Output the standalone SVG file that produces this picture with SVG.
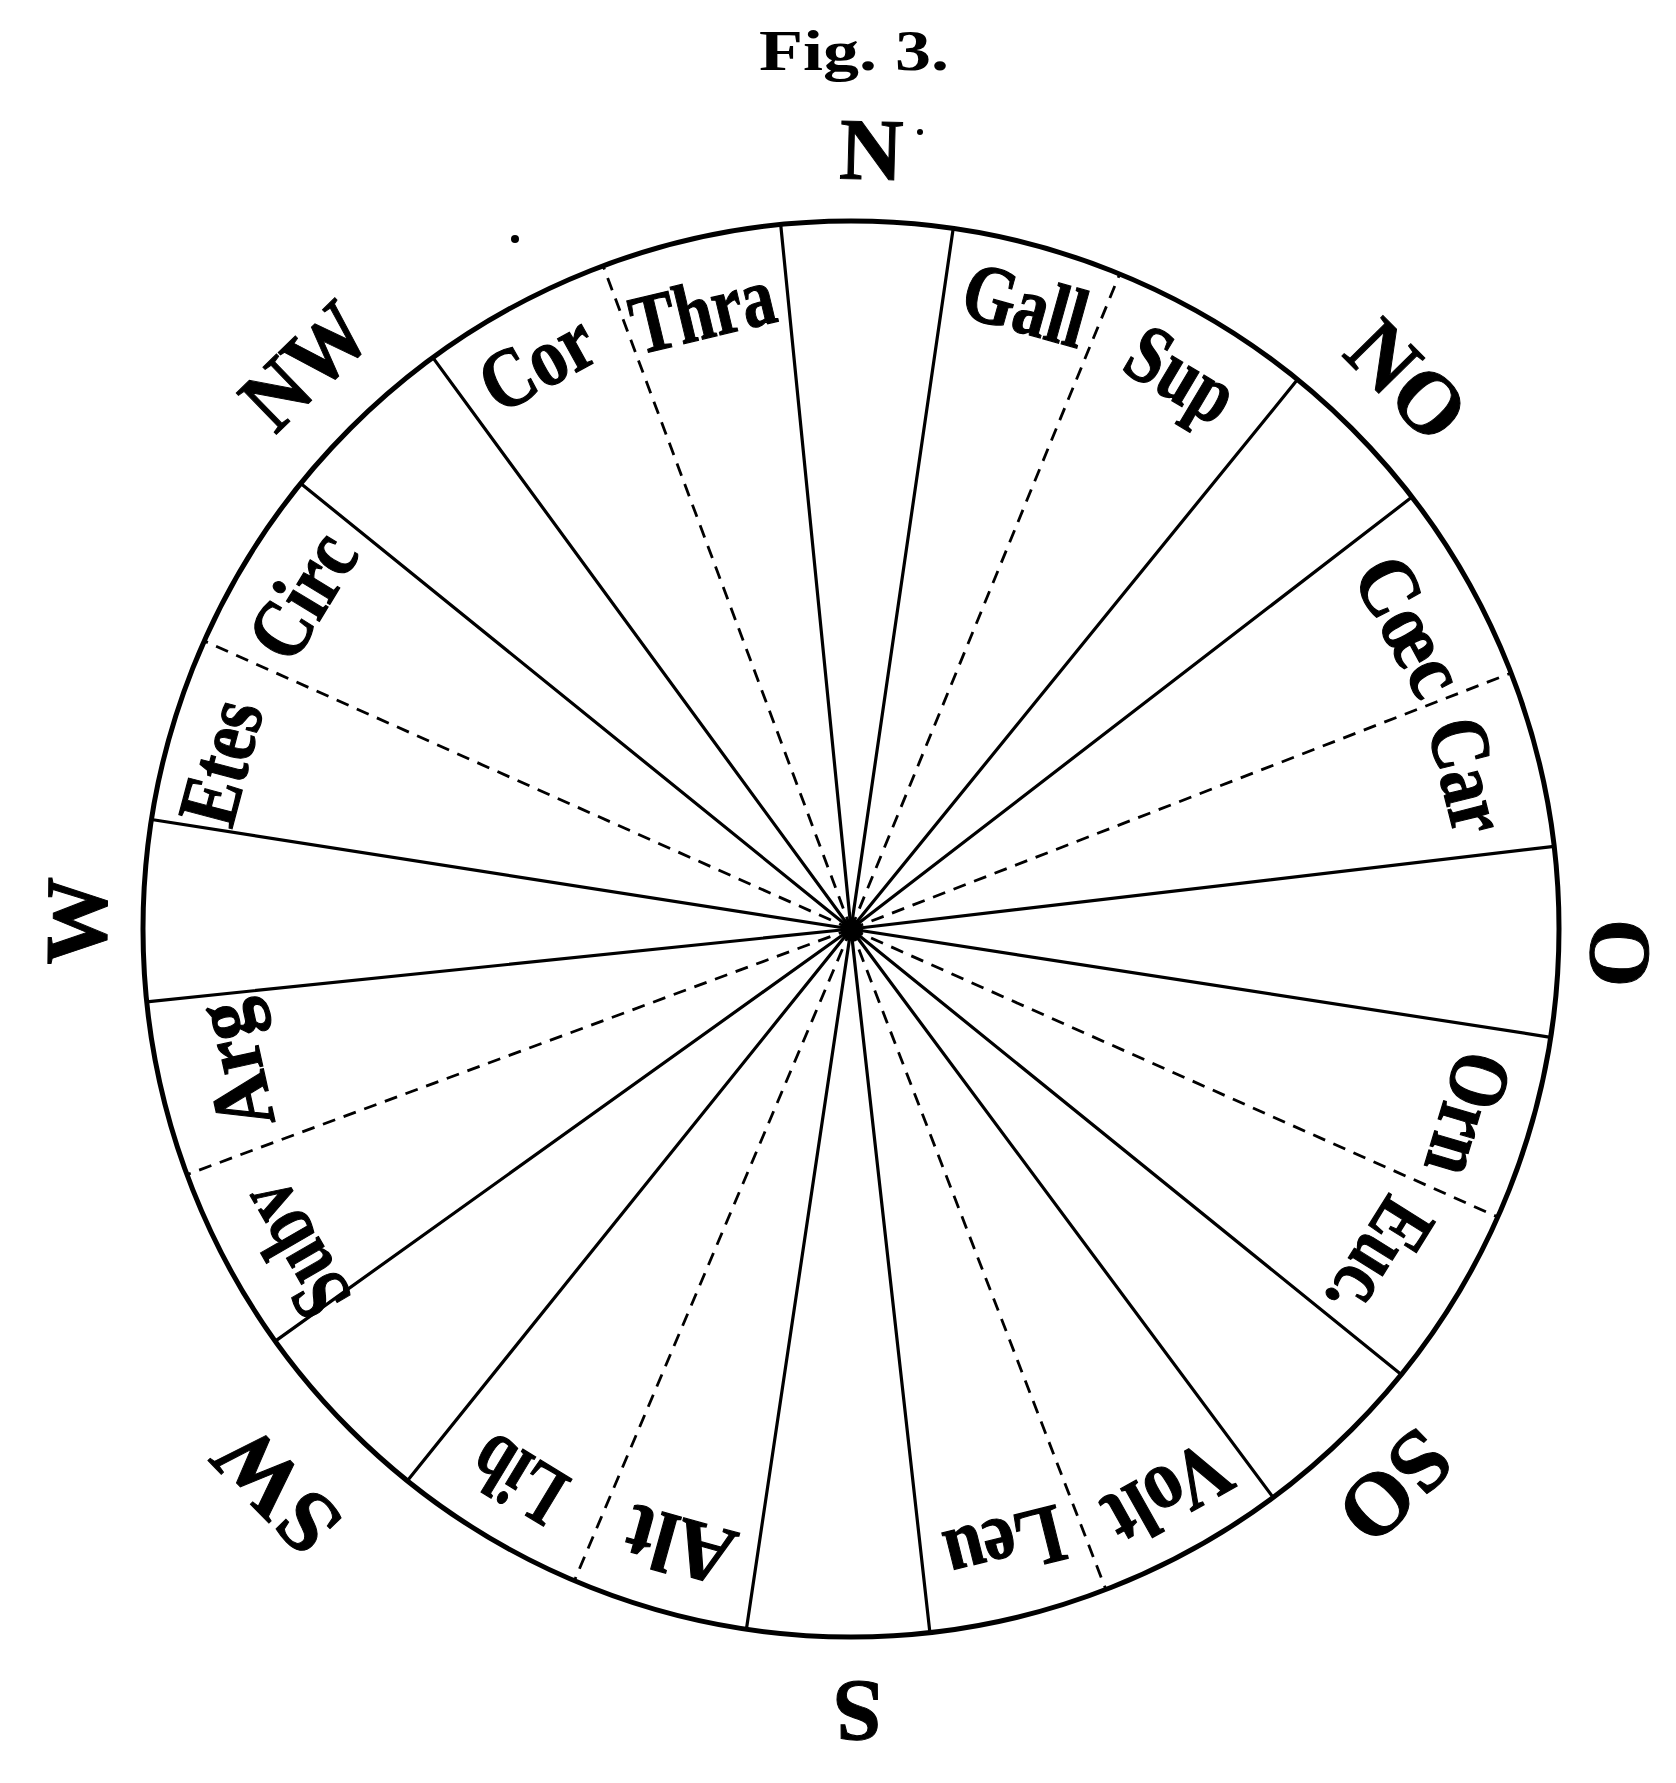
<svg xmlns="http://www.w3.org/2000/svg" width="1676" height="1783" viewBox="0 0 1676 1783">
<style>
.rim{fill:none;stroke:#000;stroke-width:5}
.sol{stroke:#000;stroke-width:3.2;stroke-linecap:round}
.dsh{stroke:#000;stroke-width:2.8;stroke-dasharray:13 9}
.lbl{font-family:"Liberation Serif","DejaVu Serif",serif;font-weight:bold;font-size:84px;text-anchor:middle;fill:#000;stroke:#000;stroke-width:1.2}
.cmp{font-family:"Liberation Serif","DejaVu Serif",serif;font-weight:bold;font-size:88px;text-anchor:middle;fill:#000;stroke:#000;stroke-width:1}
.fig{font-family:"Liberation Serif","DejaVu Serif",serif;font-weight:bold;font-size:56px;text-anchor:middle;fill:#000}
</style>
<rect width="1676" height="1783" fill="#fff"/>
<g id="title"><text class="fig" x="854" y="70" textLength="190" lengthAdjust="spacingAndGlyphs">Fig. 3.</text></g>
<g id="connectors">
<g id="solid-spokes">
<line class="sol" x1="851" y1="929" x2="780.7" y2="224.5"/>
<line class="sol" x1="851" y1="929" x2="953.2" y2="228.4"/>
<line class="sol" x1="851" y1="929" x2="1297.5" y2="379.6"/>
<line class="sol" x1="851" y1="929" x2="1411.9" y2="497.1"/>
<line class="sol" x1="851" y1="929" x2="1554.2" y2="846.4"/>
<line class="sol" x1="851" y1="929" x2="1550.7" y2="1037.3"/>
<line class="sol" x1="851" y1="929" x2="1401.2" y2="1374.5"/>
<line class="sol" x1="851" y1="929" x2="1273.1" y2="1497.4"/>
<line class="sol" x1="851" y1="929" x2="929.9" y2="1632.6"/>
<line class="sol" x1="851" y1="929" x2="746.4" y2="1629.2"/>
<line class="sol" x1="851" y1="929" x2="407.4" y2="1480.7"/>
<line class="sol" x1="851" y1="929" x2="275.3" y2="1341.1"/>
<line class="sol" x1="851" y1="929" x2="146.7" y2="1001.8"/>
<line class="sol" x1="851" y1="929" x2="151.5" y2="819.5"/>
<line class="sol" x1="851" y1="929" x2="300.8" y2="483.5"/>
<line class="sol" x1="851" y1="929" x2="432.9" y2="357.6"/>
</g>
<g id="dashed-spokes">
<line class="dsh" x1="851" y1="929" x2="603.1" y2="265.8"/>
<line class="dsh" x1="851" y1="929" x2="1119.7" y2="274.0"/>
<line class="dsh" x1="851" y1="929" x2="1511.1" y2="673.0"/>
<line class="dsh" x1="851" y1="929" x2="1497.8" y2="1217.0"/>
<line class="dsh" x1="851" y1="929" x2="1105.9" y2="1589.6"/>
<line class="dsh" x1="851" y1="929" x2="574.4" y2="1580.7"/>
<line class="dsh" x1="851" y1="929" x2="186.9" y2="1174.6"/>
<line class="dsh" x1="851" y1="929" x2="204.2" y2="641.0"/>
</g>
</g>
<g id="rim"><circle class="rim" cx="851" cy="929" r="708"/></g>
<g id="hub"><circle cx="852" cy="930" r="11" fill="#000"/></g>
<g id="wind-labels">
<g id="lbl-cor"><text class="lbl" transform="rotate(331 851 929)" x="851" y="309" textLength="118" lengthAdjust="spacingAndGlyphs">Cor</text></g>
<g id="lbl-thra"><text class="lbl" transform="rotate(346.5 851 929)" x="851" y="321" textLength="145" lengthAdjust="spacingAndGlyphs">Thra</text></g>
<g id="lbl-gall"><text class="lbl" transform="rotate(15.6 851 929)" x="851" y="309" textLength="125" lengthAdjust="spacingAndGlyphs">Gall</text></g>
<g id="lbl-sup"><text class="lbl" transform="rotate(30.8 851 929)" x="851" y="311" textLength="112" lengthAdjust="spacingAndGlyphs">Sup</text></g>
<g id="lbl-caec"><text class="lbl" transform="rotate(61.5 851 929)" x="851" y="321" textLength="145" lengthAdjust="spacingAndGlyphs">Cœc</text></g>
<g id="lbl-car"><text class="lbl" transform="rotate(76 851 929)" x="851" y="321" textLength="115" lengthAdjust="spacingAndGlyphs">Car</text></g>
<g id="lbl-orn"><text class="lbl" transform="rotate(106.7 851 929)" x="851" y="312" textLength="125" lengthAdjust="spacingAndGlyphs">Orn</text></g>
<g id="lbl-euc"><text class="lbl" transform="rotate(122 851 929)" x="851" y="333" textLength="125" lengthAdjust="spacingAndGlyphs">Euc.</text></g>
<g id="lbl-volt"><text class="lbl" transform="rotate(150.7 851 929)" x="851" y="309" textLength="130" lengthAdjust="spacingAndGlyphs">Volt</text></g>
<g id="lbl-leu"><text class="lbl" transform="rotate(166 851 929)" x="851" y="321" textLength="120" lengthAdjust="spacingAndGlyphs">Leu</text></g>
<g id="lbl-alt"><text class="lbl" transform="rotate(195.5 851 929)" x="851" y="317" textLength="110" lengthAdjust="spacingAndGlyphs">Alt</text></g>
<g id="lbl-lib"><text class="lbl" transform="rotate(211.2 851 929)" x="851" y="314" textLength="95" lengthAdjust="spacingAndGlyphs">Lib</text></g>
<g id="lbl-subv"><text class="lbl" transform="rotate(240 851 929)" x="851" y="314" textLength="140" lengthAdjust="spacingAndGlyphs">Subv</text></g>
<g id="lbl-arg"><text class="lbl" transform="rotate(257.5 851 929)" x="851" y="325" textLength="128" lengthAdjust="spacingAndGlyphs">Arg</text></g>
<g id="lbl-etes"><text class="lbl" transform="rotate(284.8 851 929)" x="851" y="305" textLength="125" lengthAdjust="spacingAndGlyphs">Etes</text></g>
<g id="lbl-circ"><text class="lbl" transform="rotate(301.3 851 929)" x="851" y="315" textLength="132" lengthAdjust="spacingAndGlyphs">Circ</text></g>
</g>
<g id="compass">
<g id="cmp-n"><text class="cmp" transform="rotate(1.5 851 929)" x="851" y="179">N</text></g>
<g id="cmp-no"><text class="cmp" transform="rotate(45.4 851 929)" x="851" y="177" textLength="130" lengthAdjust="spacingAndGlyphs">NO</text></g>
<g id="cmp-o"><text class="cmp" transform="rotate(91.8 851 929)" x="851" y="189">O</text></g>
<g id="cmp-so"><text class="cmp" transform="rotate(135.7 851 929)" x="851" y="179" textLength="120" lengthAdjust="spacingAndGlyphs">SO</text></g>
<g id="cmp-s"><text class="cmp" transform="rotate(179.5 851 929)" x="851" y="176">S</text></g>
<g id="cmp-sw"><text class="cmp" transform="rotate(225.7 851 929)" x="851" y="155" textLength="140" lengthAdjust="spacingAndGlyphs">SW</text></g>
<g id="cmp-w"><text class="cmp" transform="rotate(270.6 851 929)" x="851" y="184">W</text></g>
<g id="cmp-nw"><text class="cmp" transform="rotate(315.9 851 929)" x="851" y="174" textLength="140" lengthAdjust="spacingAndGlyphs">NW</text></g>
</g>
<g id="specks"><circle cx="515" cy="239" r="4" fill="#000"/><circle cx="920" cy="132" r="3" fill="#000"/></g>
</svg>
